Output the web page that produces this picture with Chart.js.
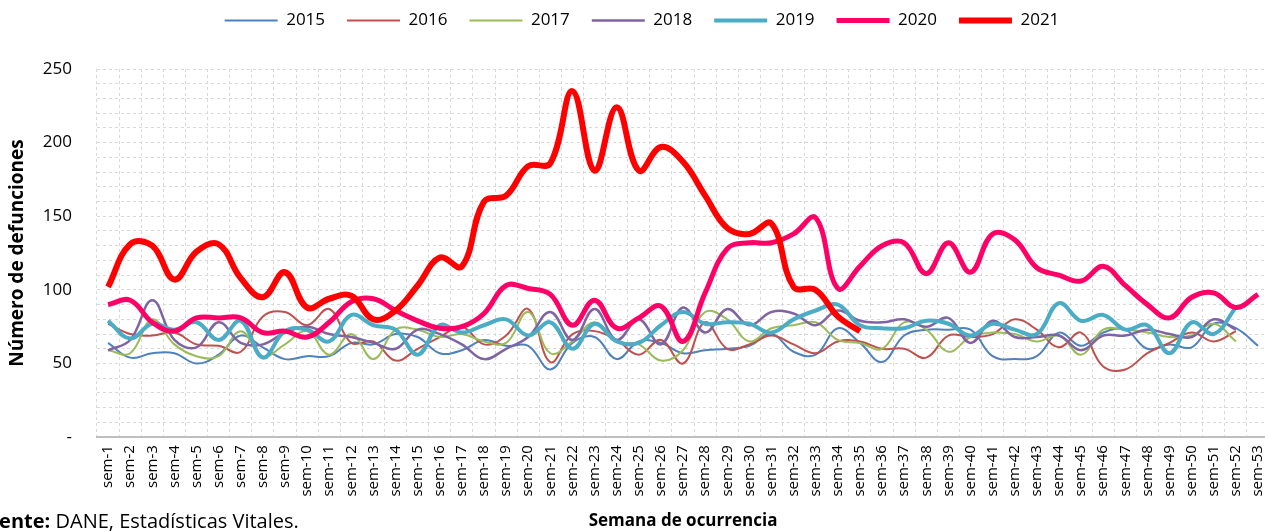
<!DOCTYPE html>
<html lang="es">
<head>
<meta charset="utf-8" />
<title>Defunciones por semana de ocurrencia</title>
<script src="https://cdn.jsdelivr.net/npm/chart.js@4.4.0/dist/chart.umd.min.js"></script>
<style>
  html, body { margin: 0; padding: 0; background: #fff; overflow: hidden; }
  #wrap { position: relative; width: 1284px; height: 531px; }
  #chart { display: block; }
  #fuente {
    position: absolute; left: -25px; top: 507px;
    font: 20px "Open Sans", sans-serif; color: #000; white-space: nowrap;
  }
</style>
</head>
<body>
<div id="wrap">
  <canvas id="chart" width="1284" height="531"></canvas>
  <div id="fuente"><b>Fuente:</b> DANE, Estadísticas Vitales.</div>
</div>
<script>
const semanas = [];
for (let i = 1; i <= 53; i++) semanas.push('sem-' + i);

const yTicks = [50, 100, 150, 200, 250];

const y2015 = [64, 54, 57, 57, 50, 56, 69, 61, 53, 55, 55, 64, 63, 70, 68, 57, 59, 66, 62, 62,
  46, 64, 68, 53, 65, 64, 57, 59, 60, 62, 70, 58, 56, 74, 64, 51, 69, 73, 73, 73,
  55, 53, 55, 71, 62, 71, 73, 60, 63, 61, 77, 74, 62];
const y2016 = [77, 70, 69, 71, 63, 62, 58, 82, 85, 76, 87, 64, 65, 52, 60, 68, 75, 63, 69, 87,
  51, 70, 72, 66, 56, 66, 50, 78, 60, 63, 69, 63, 57, 65, 65, 60, 60, 54, 69, 68,
  70, 80, 73, 61, 71, 48, 46, 57, 64, 71, 65, 72];
const y2017 = [59, 57, 80, 63, 55, 55, 72, 55, 63, 72, 56, 70, 53, 73, 73, 68, 70, 65, 64, 85,
  57, 65, 78, 65, 63, 52, 59, 85, 80, 65, 74, 76, 78, 66, 64, 60, 78, 73, 58, 68,
  71, 70, 65, 69, 56, 73, 73, 71, 68, 69, 77, 65];
const y2018 = [59, 66, 93, 66, 61, 78, 64, 63, 71, 75, 70, 68, 64, 60, 73, 70, 63, 53, 60, 68,
  85, 66, 87, 66, 80, 63, 88, 71, 87, 76, 85, 84, 76, 86, 79, 78, 80, 75, 81, 64,
  79, 68, 68, 69, 59, 69, 69, 73, 70, 68, 80, 73];
const y2019 = [79, 67, 77, 73, 78, 66, 79, 54, 72, 73, 65, 83, 76, 73, 56, 76, 71, 76, 80, 69,
  78, 60, 77, 65, 64, 76, 85, 77, 78, 77, 71, 80, 86, 90, 76, 74, 74, 79, 77, 69,
  77, 73, 70, 91, 79, 83, 73, 76, 57, 78, 70, 88];
const y2020 = [90, 93, 78, 72, 81, 81, 81, 71, 72, 68, 78, 92, 94, 86, 79, 74, 75, 84, 103, 101,
  97, 76, 93, 74, 81, 89, 65, 98, 128, 132, 132, 138, 149, 101, 116, 130, 132, 111, 132, 112,
  138, 134, 115, 110, 106, 116, 103, 90, 81, 95, 98, 88, 97];
const y2021 = [102, 131, 130, 107, 126, 131, 108, 95, 112, 88, 94, 96, 80, 86, 103, 122, 116, 160, 164, 184,
  186, 235, 181, 224, 181, 197, 187, 164, 142, 138, 145, 102, 100, 82, 72];

function serie(label, data, color, width, order) {
  return {
    label: label, data: data, borderColor: color, backgroundColor: color,
    borderWidth: width, pointRadius: 0, pointHoverRadius: 0, pointStyle: 'line',
    tension: 0.4, fill: false, order: order
  };
}

const font = '"Open Sans", sans-serif';

// extra room under the legend, like the gap in the original sheet
const legendGap = {
  id: 'legendGap',
  beforeLayout(chart) {
    const lg = chart.legend;
    if (lg && !lg._gap) {
      const fit = lg.fit;
      lg.fit = function () { fit.call(this); this.height += 30; };
      lg._gap = true;
    }
  }
};

new Chart(document.getElementById('chart'), {
  type: 'line',
  data: {
    labels: semanas,
    datasets: [
      serie('2015', y2015, '#4F81BD', 2, 6),
      serie('2016', y2016, '#C0504D', 2, 5),
      serie('2017', y2017, '#9BBB59', 2, 4),
      serie('2018', y2018, '#8064A2', 2.5, 3),
      serie('2019', y2019, '#4BACC6', 4, 2),
      serie('2020', y2020, '#FF0066', 5, 1),
      serie('2021', y2021, '#FF0000', 6, 0)
    ]
  },
  options: {
    responsive: false,
    animation: false,
    layout: { padding: { top: -10, left: 0, right: 0, bottom: 0 } },
    plugins: {
      tooltip: { enabled: false },
      legend: {
        position: 'top',
        labels: {
          usePointStyle: true,
          pointStyleWidth: 53,
          padding: 22,
          color: '#000',
          font: { family: font, size: 17 },
          sort: (a, b) => a.datasetIndex - b.datasetIndex
        }
      }
    },
    scales: {
      x: {
        offset: true,
        grid: { offset: true, color: '#D9D9D9', drawTicks: false },
        border: { display: true, color: '#BFBFBF', width: 2, dash: [3, 3] },
        ticks: {
          autoSkip: false, maxRotation: 90, minRotation: 90, padding: 8,
          color: '#000', font: { family: font, size: 15 }
        },
        title: {
          display: true, text: 'Semana de ocurrencia', color: '#000',
          font: { family: font, size: 17, weight: 'bold' }, padding: { top: 6, bottom: 0 }
        }
      },
      y: {
        min: 0, max: 250,
        afterFit: s => { s.width = 97; },
        grid: { color: '#D9D9D9', drawTicks: false },
        border: { display: false, dash: [3, 3] },
        ticks: {
          stepSize: 10, padding: 25, autoSkip: false, color: '#000',
          font: { family: font, size: 17 },
          callback: v => (v === 0 ? '-' : (yTicks.includes(v) ? String(v) : ''))
        },
        title: {
          display: true, text: 'Número de defunciones', color: '#000',
          font: { family: font, size: 19, weight: 'bold' }, padding: { top: 6, bottom: 6 }
        }
      }
    }
  },
  plugins: [legendGap]
});
</script>
</body>
</html>
